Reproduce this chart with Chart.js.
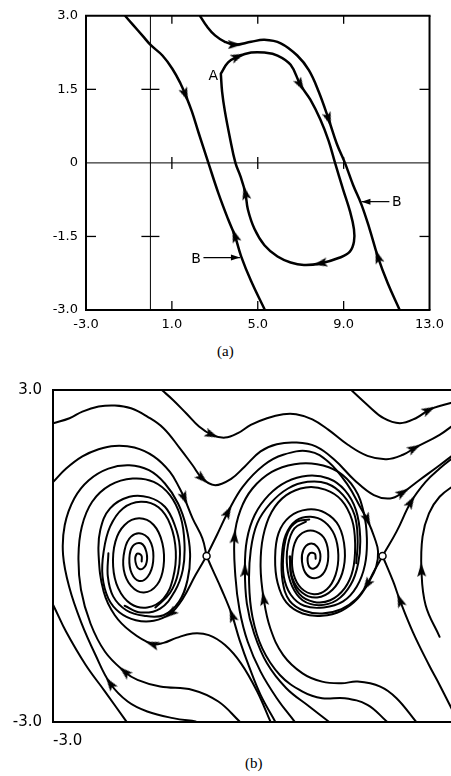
<!DOCTYPE html>
<html>
<head>
<meta charset="utf-8">
<script src="https://cdn.jsdelivr.net/npm/chart.js@4.4.1/dist/chart.umd.min.js"></script>
<style>
  html, body { margin: 0; padding: 0; background: #fff; overflow: hidden; }
  body { width: 451px; height: 776px; position: relative; }
  #chartA { position: absolute; left: 0; top: 0; }
  #chartB { position: absolute; left: 0; top: 370px; }
  .caption { position: absolute; font-family: "Liberation Serif", serif; font-size: 15px; color: #000; }
</style>
</head>
<body>
<canvas id="chartA" width="451" height="338"></canvas>
<div class="caption" style="left:217px; top:343px;">(a)</div>
<canvas id="chartB" width="544" height="380"></canvas>
<div class="caption" style="left:245px; top:755px;">(b)</div>
<script>
// ---- (a) ----
const topXTicks = [-3, 1, 5, 9, 13];
const topXLabels = ['-3.0', '1.0', '5.0', '9.0', '13.0'];
const topYTicks = [3, 1.5, 0, -1.5, -3];
const topYLabels = ['3.0', '1.5', '0', '-1.5', '-3.0'];

// separatrix B on the left
const sepLeft = [[-1.16, 2.99], [-0.82, 2.82], [-0.36, 2.59], [0.02, 2.40], [0.56, 2.19], [1.02, 1.92],
  [1.40, 1.62], [1.63, 1.39], [1.93, 1.05], [2.24, 0.62], [2.70, 0.00], [3.16, -0.61], [3.62, -1.15],
  [3.93, -1.48], [4.23, -1.91], [4.69, -2.41], [5.31, -2.98]];
// separatrix B on the right
const sepRight = [[2.32, 2.99], [2.62, 2.79], [3.01, 2.60], [3.47, 2.47], [3.93, 2.41], [4.69, 2.47],
  [5.31, 2.51], [6.07, 2.44], [6.84, 2.19], [7.38, 1.89], [7.84, 1.45], [8.30, 0.89], [8.68, 0.39],
  [9.06, 0.00], [9.44, -0.45], [9.83, -0.85], [10.21, -1.35], [10.59, -1.91], [11.05, -2.45], [11.59, -2.98]];
// closed orbit A
const cycleA = [[3.28, 1.82], [3.62, 2.05], [4.08, 2.17], [4.69, 2.25], [5.31, 2.25], [5.92, 2.19],
  [6.53, 2.00], [6.99, 1.59], [7.45, 1.29], [7.91, 0.89], [8.30, 0.45], [8.60, 0.00], [8.98, -0.55],
  [9.29, -0.98], [9.48, -1.35], [9.48, -1.61], [9.29, -1.81], [8.83, -1.93], [7.91, -2.05], [7.15, -2.08],
  [6.53, -2.03], [5.92, -1.91], [5.31, -1.68], [4.85, -1.35], [4.54, -0.95], [4.42, -0.61], [4.20, -0.28],
  [3.96, 0.00], [3.70, 0.52], [3.47, 1.05], [3.34, 1.45], [3.28, 1.82]];
const curvesA = { sepLeft, sepRight, cycleA };
// [curve, point index, direction]
const topArrows = [['sepLeft', 7, 1], ['sepLeft', 13, -1], ['sepRight', 4, 1], ['sepRight', 11, 1],
  ['sepRight', 17, -1], ['cycleA', 2, 1], ['cycleA', 7, 1], ['cycleA', 18, 1], ['cycleA', 25, 1]];

// ---- (b) ----
const botXTicks = [-3, 13];
const botXLabels = ['-3.0', '13.0'];
const botYTicks = [3, -3];
const botYLabels = ['3.0', '-3.0'];

const flowTop0 = [[7.66, 3.00], [8.24, 2.73], [8.82, 2.49], [9.40, 2.40], [9.97, 2.49], [10.44, 2.64],
  [10.82, 2.71], [11.50, 2.80]];
const flowTop1 = [[0.89, 3.00], [1.29, 2.82], [1.76, 2.58], [2.22, 2.34], [2.68, 2.19], [3.15, 2.14],
  [3.61, 2.22], [4.07, 2.37], [4.65, 2.49], [5.23, 2.56], [5.69, 2.56], [6.27, 2.47], [6.85, 2.28],
  [7.54, 2.01], [8.24, 1.81], [8.93, 1.75], [9.51, 1.83], [9.92, 1.95], [10.82, 2.19], [11.40, 2.40]];
const flowTop2 = [[-2.99, 2.40], [-2.41, 2.49], [-1.95, 2.61], [-1.37, 2.70], [-0.79, 2.72], [-0.21, 2.67],
  [0.37, 2.52], [0.95, 2.31], [1.53, 1.95], [1.99, 1.64], [2.34, 1.40], [2.80, 1.28], [3.38, 1.40],
  [3.84, 1.61], [4.42, 1.89], [5.00, 2.02], [5.69, 2.05], [6.39, 1.98], [7.08, 1.73], [7.78, 1.37],
  [8.47, 1.10], [9.05, 1.04], [9.51, 1.15], [10.09, 1.37], [10.82, 1.64], [11.50, 1.90]];
const sepIn1 = [[-2.99, 1.34], [-2.53, 1.58], [-1.95, 1.80], [-1.37, 1.93], [-0.79, 1.99], [-0.09, 1.96],
  [0.60, 1.80], [1.18, 1.52], [1.53, 1.22], [1.70, 1.04], [1.99, 0.68], [2.34, 0.32], [2.49, 0.00]];
const sepIn1b = [[4.94, -2.99], [4.42, -2.51], [4.01, -2.00], [3.67, -1.52], [3.40, -1.07], [3.03, -0.61],
  [2.68, -0.22], [2.49, 0.00]];
const sepOut1 = [[2.49, 0.00], [2.86, 0.38], [3.26, 0.80], [3.78, 1.25], [4.53, 1.64], [5.23, 1.83],
  [6.16, 1.89], [6.85, 1.70], [7.54, 1.28], [8.01, 0.86], [8.24, 0.65], [8.50, 0.32], [8.62, 0.08],
  [8.55, -0.20], [8.30, -0.46], [7.89, -0.77], [7.31, -0.99], [6.62, -1.08], [5.92, -1.04], [5.34, -0.84],
  [5.03, -0.49], [4.94, -0.04], [5.06, 0.41], [5.46, 0.71], [6.10, 0.84], [6.73, 0.78], [7.22, 0.54],
  [7.43, 0.11], [7.34, -0.31], [6.99, -0.61], [6.44, -0.75], [5.90, -0.66], [5.55, -0.39], [5.46, -0.01]];
const sepOut1b = [[2.49, 0.00], [2.10, -0.34], [1.64, -0.77], [1.20, -1.04], [0.60, -1.17], [-0.04, -1.16],
  [-0.62, -1.02], [-1.02, -0.77], [-1.23, -0.37], [-1.19, 0.08], [-0.96, 0.53], [-0.50, 0.86], [0.14, 0.98],
  [0.77, 0.88], [1.20, 0.56], [1.39, 0.08], [1.29, -0.40], [0.95, -0.77], [0.37, -0.93], [-0.23, -0.86],
  [-0.67, -0.58], [-0.85, -0.19], [-0.77, 0.26], [-0.44, 0.56], [0.08, 0.68], [0.60, 0.56], [0.91, 0.23],
  [0.95, -0.19], [0.72, -0.52], [0.25, -0.66], [-0.21, -0.54], [-0.47, -0.25], [-0.44, 0.11], [-0.21, 0.35],
  [0.19, 0.40], [0.51, 0.23], [0.58, -0.10], [0.39, -0.37], [0.08, -0.45], [-0.19, -0.31], [-0.27, -0.04],
  [-0.15, 0.18], [0.14, 0.23], [0.34, 0.07], [0.32, -0.16], [0.11, -0.24], [-0.05, -0.11], [0.00, 0.04],
  [0.16, 0.01], [0.17, -0.10]];
const sepOut2 = [[8.78, 0.00], [8.47, -0.28], [8.22, -0.52], [7.83, -0.78], [7.31, -0.96], [6.62, -1.04],
  [5.98, -0.99], [5.46, -0.81], [5.21, -0.46], [5.18, -0.01], [5.32, 0.38], [5.69, 0.64], [6.21, 0.71],
  [6.70, 0.62], [7.06, 0.38], [7.20, 0.02], [7.10, -0.34], [6.79, -0.60], [6.33, -0.69], [5.87, -0.58],
  [5.60, -0.33], [5.55, -0.01], [5.69, 0.29], [6.01, 0.44], [6.40, 0.44], [6.73, 0.29], [6.84, -0.01],
  [6.71, -0.28], [6.39, -0.40], [6.06, -0.33], [5.90, -0.10], [5.95, 0.11], [6.18, 0.22], [6.44, 0.17],
  [6.56, -0.01], [6.44, -0.19], [6.21, -0.22], [6.10, -0.08], [6.18, 0.05], [6.36, 0.04], [6.39, -0.05]];
const sepOut2b = [[8.78, 0.00], [9.28, 0.44], [9.80, 0.98], [10.32, 1.34], [10.82, 1.58], [11.36, 1.80]];
const sepIn2b = [[11.48, -2.99], [10.82, -2.33], [10.44, -1.97], [9.86, -1.37], [9.40, -0.80], [9.16, -0.46],
  [8.78, 0.00]];
const band1 = [[5.63, -2.99], [5.00, -2.57], [4.42, -2.09], [3.96, -1.55], [3.67, -0.98], [3.52, -0.37],
  [3.49, 0.35], [3.70, 0.83], [4.13, 1.22], [4.82, 1.52], [5.63, 1.66], [6.44, 1.66], [7.20, 1.52],
  [7.78, 1.22], [8.10, 0.80], [8.22, 0.32], [8.15, -0.16], [7.86, -0.55], [7.37, -0.82], [6.68, -0.93],
  [5.98, -0.90], [5.50, -0.70], [5.25, -0.37], [5.24, 0.06], [5.40, 0.43], [5.72, 0.62], [6.16, 0.66]];
const band2 = [[6.85, -2.99], [6.16, -2.72], [5.34, -2.39], [4.65, -1.94], [4.19, -1.40], [3.93, -0.86],
  [3.86, -0.25], [3.93, 0.29], [4.21, 0.74], [4.71, 1.10], [5.34, 1.34], [6.10, 1.45], [6.85, 1.40],
  [7.43, 1.19], [7.83, 0.83], [7.98, 0.35], [7.91, -0.13], [7.64, -0.52], [7.14, -0.80], [6.50, -0.89],
  [5.92, -0.80], [5.55, -0.55], [5.37, -0.19], [5.40, 0.20], [5.63, 0.50], [6.04, 0.62]];
const band3 = [[8.93, -2.99], [8.24, -2.69], [7.43, -2.57], [6.62, -2.57], [5.92, -2.45], [5.11, -2.15],
  [4.48, -1.67], [4.13, -1.10], [4.01, -0.49], [4.07, 0.11], [4.30, 0.59], [4.77, 0.95], [5.40, 1.22],
  [6.10, 1.34], [6.79, 1.31], [7.37, 1.10], [7.78, 0.74], [7.89, 0.29], [7.84, -0.13]];
const band4 = [[9.97, -2.99], [9.28, -2.57], [8.70, -2.36], [7.89, -2.27], [7.31, -2.30], [6.62, -2.27],
  [5.92, -2.12], [5.23, -1.79], [4.77, -1.31], [4.53, -0.77], [4.42, -0.19], [4.51, 0.35], [4.82, 0.80],
  [5.34, 1.10], [6.04, 1.24], [6.73, 1.20], [7.31, 1.01], [7.69, 0.65], [7.80, 0.23], [7.72, -0.25],
  [7.43, -0.58], [6.91, -0.80], [6.33, -0.83], [5.81, -0.69], [5.52, -0.37], [5.48, -0.01]];
const capture1a = [[2.10, -2.99], [1.29, -2.93], [0.37, -2.81], [-0.33, -2.63], [-0.96, -2.30], [-1.48, -1.79],
  [-2.00, -1.19], [-2.41, -0.58], [-2.64, 0.02], [-2.58, 0.56], [-2.24, 1.04], [-1.72, 1.37], [-1.02, 1.58],
  [-0.27, 1.64], [0.43, 1.55], [1.00, 1.31], [1.47, 0.95], [1.76, 0.53], [1.90, 0.05], [1.81, -0.43],
  [1.50, -0.83], [0.95, -1.07], [0.25, -1.08], [-0.38, -0.98], [-0.85, -0.73], [-1.04, -0.37], [-1.02, 0.05]];
const capture1b = [[3.67, -2.99], [2.91, -2.63], [1.99, -2.42], [0.83, -2.36], [0.02, -2.24], [-0.44, -2.09],
  [-1.14, -1.73], [-1.66, -1.22], [-2.00, -0.61], [-2.09, -0.01], [-1.97, 0.53], [-1.60, 0.98], [-0.96, 1.28],
  [-0.15, 1.40], [0.60, 1.34], [1.18, 1.10], [1.56, 0.71], [1.70, 0.23], [1.64, -0.25], [1.35, -0.64],
  [0.83, -0.95], [0.14, -1.02], [-0.44, -0.90]];
const capture1c = [[4.77, -2.99], [4.30, -2.45], [3.72, -1.94], [3.15, -1.61], [2.57, -1.43], [1.99, -1.40],
  [1.41, -1.48], [0.95, -1.57], [0.54, -1.59], [-0.21, -1.37], [-0.79, -1.07], [-1.19, -0.64], [-1.37, 0.02],
  [-1.31, 0.47], [-0.96, 0.86], [-0.27, 1.07], [0.43, 1.06], [1.00, 0.89], [1.35, 0.56], [1.53, 0.17],
  [1.47, -0.31], [1.18, -0.67], [0.66, -0.93]];
const escape1 = [[-0.38, -2.99], [-1.14, -2.45], [-1.83, -1.97], [-2.53, -1.37], [-2.99, -0.89], [-3.30, -0.60]];
const edge3 = [[10.82, -1.46], [10.32, -0.89], [10.17, -0.25], [10.21, 0.35], [10.44, 0.77], [10.82, 1.07],
  [11.40, 1.30]];
const saddles = [[2.49, 0], [8.78, 0]];

const curvesB = { flowTop0, flowTop1, flowTop2, sepIn1, sepIn1b, sepOut1, sepOut1b, sepOut2, sepOut2b,
  sepIn2b, band1, band2, band3, band4, capture1a, capture1b, capture1c, escape1, edge3 };
const botArrows = [['flowTop0', 5, 1], ['flowTop1', 4, 1], ['flowTop1', 17, 1], ['flowTop2', 10, 1],
  ['flowTop2', 22, 1], ['sepIn1', 9, 1], ['sepOut1', 2, 1], ['sepOut1', 10, 1], ['sepOut1b', 3, 1],
  ['sepOut2', 2, 1], ['sepOut2b', 2, 1], ['sepIn1b', 4, 1], ['sepIn2b', 4, 1], ['band1', 6, 1],
  ['band2', 6, 1], ['band4', 9, 1], ['capture1a', 4, 1], ['capture1b', 5, 1], ['capture1c', 8, 1],
  ['edge3', 2, 1]];

Chart.defaults.color = '#000';
Chart.defaults.font.family = '"DejaVu Sans", sans-serif';

// slim arrowhead, tip pointing up
const arrowHead = (() => {
  const c = document.createElement('canvas');
  c.width = 9; c.height = 14;
  const g = c.getContext('2d');
  g.fillStyle = '#000';
  g.beginPath();
  g.moveTo(4.5, 0); g.lineTo(9, 14); g.lineTo(4.5, 11); g.lineTo(0, 14);
  g.closePath(); g.fill();
  return c;
})();

function arrowAngle(chart, pts, i, dir) {
  const xs = chart.scales.x, ys = chart.scales.y;
  const a = pts[Math.max(i - 1, 0)], b = pts[Math.min(i + 1, pts.length - 1)];
  const dx = (xs.getPixelForValue(b[0]) - xs.getPixelForValue(a[0])) * dir;
  const dy = (ys.getPixelForValue(b[1]) - ys.getPixelForValue(a[1])) * dir;
  return Math.atan2(dx, -dy) * 180 / Math.PI;
}

function lineSet(points, width) {
  return {
    data: points.map(p => ({ x: p[0], y: p[1] })),
    showLine: true,
    borderColor: '#000',
    borderWidth: width,
    borderCapStyle: 'round',
    borderJoinStyle: 'round',
    pointRadius: 0,
    tension: 0.4,
    fill: false
  };
}

function arrowSet(curves, arrows) {
  return {
    data: arrows.map(a => ({ x: curves[a[0]][a[1]][0], y: curves[a[0]][a[1]][1] })),
    showLine: false,
    pointStyle: arrowHead,
    pointRadius: 6,
    rotation: ctx => {
      if (ctx.dataIndex === undefined) return 0;
      const a = arrows[ctx.dataIndex];
      return arrowAngle(ctx.chart, curves[a[0]], a[1], a[2]);
    }
  };
}

function axisOpts(min, max, vals, labels, fontSize, padding, thickness, horizontal, align) {
  return {
    type: 'linear', min, max,
    grid: { display: false, drawTicks: false },
    border: { display: false },
    afterBuildTicks: s => { s.ticks = vals.map(v => ({ value: v })); },
    afterFit: s => { if (horizontal) s.height = thickness; else s.width = thickness; },
    ticks: {
      autoSkip: false, maxRotation: 0, padding, align: align || 'center',
      font: { size: fontSize },
      callback: v => labels[vals.indexOf(v)]
    }
  };
}

const framePlugin = {
  id: 'frame',
  beforeDatasetsDraw(chart, args, opts) {
    if (!opts.axesLines) return;
    const ctx = chart.ctx, a = chart.chartArea, xs = chart.scales.x, ys = chart.scales.y;
    const x0 = xs.getPixelForValue(0), y0 = ys.getPixelForValue(0);
    const line = (x1, y1, x2, y2) => { ctx.beginPath(); ctx.moveTo(x1, y1); ctx.lineTo(x2, y2); ctx.stroke(); };
    ctx.save();
    ctx.strokeStyle = '#000';
    ctx.lineWidth = 1;
    line(x0, a.top, x0, a.bottom);
    line(a.left, y0, a.right, y0);
    ctx.lineWidth = 1.3;
    xs.ticks.forEach(t => {
      if (t.value <= xs.min || t.value >= xs.max) return;
      const px = xs.getPixelForValue(t.value);
      line(px, a.top, px, a.top + 8);
      line(px, a.bottom, px, a.bottom - 9);
      line(px, y0 - 6, px, y0 + 6);
    });
    ys.ticks.forEach(t => {
      if (t.value <= ys.min || t.value >= ys.max || t.value === 0) return;
      const py = ys.getPixelForValue(t.value);
      line(a.left, py, a.left + 10, py);
      line(a.right, py, a.right - 10, py);
      line(x0 - 9, py, x0 + 9, py);
    });
    ctx.restore();
  },
  afterDatasetsDraw(chart, args, opts) {
    const ctx = chart.ctx, a = chart.chartArea, xs = chart.scales.x, ys = chart.scales.y;
    const line = (x1, y1, x2, y2) => { ctx.beginPath(); ctx.moveTo(x1, y1); ctx.lineTo(x2, y2); ctx.stroke(); };
    ctx.save();
    ctx.strokeStyle = '#000';
    ctx.fillStyle = '#000';
    ctx.lineWidth = 2;
    const sides = opts.sides || [];
    if (sides.includes('top')) line(a.left - 1, a.top, a.right + 1, a.top);
    if (sides.includes('bottom')) line(a.left - 1, a.bottom, a.right + 1, a.bottom);
    if (sides.includes('left')) line(a.left, a.top, a.left, a.bottom);
    if (sides.includes('right')) line(a.right, a.top, a.right, a.bottom);

    (opts.notes || []).forEach(n => {
      ctx.font = '14px "DejaVu Sans", sans-serif';
      ctx.textAlign = 'center';
      ctx.textBaseline = 'middle';
      ctx.fillText(n.text, xs.getPixelForValue(n.x), ys.getPixelForValue(n.y));
      if (!n.from) return;
      const x1 = xs.getPixelForValue(n.from[0]), y1 = ys.getPixelForValue(n.from[1]);
      const x2 = xs.getPixelForValue(n.to[0]), y2 = ys.getPixelForValue(n.to[1]);
      ctx.lineWidth = 1.2;
      line(x1, y1, x2, y2);
      const ang = Math.atan2(y2 - y1, x2 - x1), L = 9, W = 3;
      ctx.beginPath();
      ctx.moveTo(x2, y2);
      ctx.lineTo(x2 - L * Math.cos(ang) + W * Math.sin(ang), y2 - L * Math.sin(ang) - W * Math.cos(ang));
      ctx.lineTo(x2 - L * Math.cos(ang) - W * Math.sin(ang), y2 - L * Math.sin(ang) + W * Math.cos(ang));
      ctx.closePath();
      ctx.fill();
    });
    ctx.restore();
  }
};

new Chart(document.getElementById('chartA'), {
  type: 'scatter',
  data: {
    datasets: [
      arrowSet(curvesA, topArrows),
      lineSet(sepLeft, 2.5),
      lineSet(sepRight, 2.5),
      lineSet(cycleA, 2.5)
    ]
  },
  options: {
    responsive: false,
    animation: false,
    layout: { padding: { top: 10, right: 17, left: 0, bottom: 0 } },
    plugins: {
      legend: { display: false },
      tooltip: { enabled: false },
      frame: {
        sides: ['top', 'right', 'bottom', 'left'],
        axesLines: true,
        notes: [
          { text: 'A', x: 2.93, y: 1.77 },
          { text: 'B', x: 2.13, y: -1.96, from: [2.47, -1.93], to: [4.17, -1.93] },
          { text: 'B', x: 11.48, y: -0.81, from: [11.13, -0.79], to: [9.83, -0.79] }
        ]
      }
    },
    scales: {
      x: axisOpts(-3, 13, topXTicks, topXLabels, 13, 7, 28, true),
      y: axisOpts(-3, 3, topYTicks, topYLabels, 13, 8, 86, false)
    }
  },
  plugins: [framePlugin]
});

const botLines = Object.keys(curvesB).map(k => lineSet(curvesB[k], 2));
new Chart(document.getElementById('chartB'), {
  type: 'scatter',
  data: {
    datasets: [
      {
        data: saddles.map(p => ({ x: p[0], y: p[1] })),
        showLine: false,
        pointStyle: 'circle',
        pointRadius: 3.5,
        pointBackgroundColor: '#fff',
        pointBorderColor: '#000',
        pointBorderWidth: 1.5
      },
      arrowSet(curvesB, botArrows),
      ...botLines
    ]
  },
  options: {
    responsive: false,
    animation: false,
    layout: { padding: { top: 20, right: 30, left: 0, bottom: 0 } },
    plugins: {
      legend: { display: false },
      tooltip: { enabled: false },
      frame: { sides: ['top', 'bottom', 'left'] }
    },
    scales: {
      x: axisOpts(-3, 13, botXTicks, botXLabels, 15, 10, 28, true, 'start'),
      y: axisOpts(-3, 3, botYTicks, botYLabels, 15, 11, 53, false)
    }
  },
  plugins: [framePlugin]
});
</script>
</body>
</html>
